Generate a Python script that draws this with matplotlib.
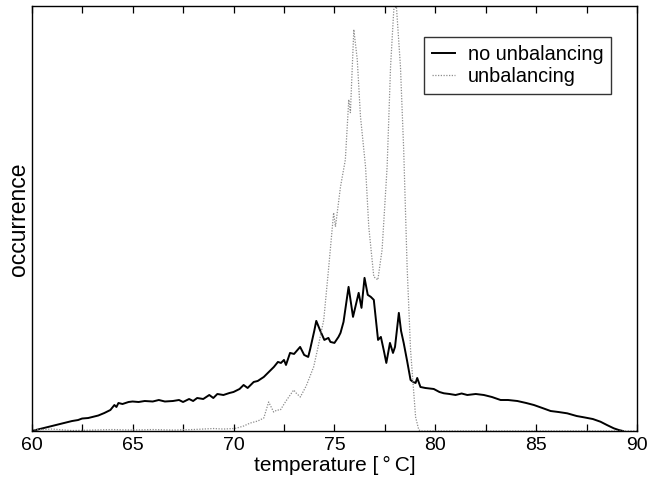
import matplotlib
matplotlib.use("Agg")
import matplotlib.pyplot as plt
from matplotlib.ticker import MultipleLocator

plt.rcParams['font.family'] = ['Liberation Sans', 'DejaVu Sans']

# temperature [°C] and occurrence (arbitrary units) for "no unbalancing"
temp_no = [60.0, 60.5, 61.0, 61.5, 62.0, 62.3, 62.5, 62.8, 63.0, 63.3, 63.6, 63.9, 64.1, 64.2,
           64.3, 64.5, 64.8, 65.0, 65.3, 65.6, 66.0, 66.3, 66.6, 67.0, 67.3, 67.5, 67.8, 68.0,
           68.2, 68.5, 68.8, 69.0, 69.2, 69.5, 69.8, 70.0, 70.3, 70.5, 70.7, 71.0, 71.2, 71.5,
           71.7, 71.9, 72.0, 72.2, 72.35, 72.5, 72.6, 72.8, 73.0, 73.3, 73.5, 73.7, 73.8, 74.0,
           74.1, 74.3, 74.5, 74.7, 74.8, 75.0, 75.2, 75.3, 75.45, 75.7, 75.92, 76.2, 76.34, 76.49,
           76.65, 76.8, 76.95, 77.16, 77.3, 77.45, 77.57, 77.75, 77.9, 78.0, 78.19, 78.3, 78.43,
           78.6, 78.77, 78.9, 79.02, 79.1, 79.26, 79.5, 79.92, 80.2, 80.42, 80.7, 81.0, 81.3,
           81.58, 82.0, 82.4, 82.8, 83.23, 83.6, 84.06, 84.5, 84.88, 85.3, 85.71, 86.1, 86.53,
           87.0, 87.36, 87.8, 88.18, 88.5, 88.84, 89.09, 89.3]
occ_no = [0, 2.5, 5, 7.5, 10, 11, 12.5, 13, 14, 15.5, 18, 21, 26, 24,
          28, 27, 29, 29.5, 29, 30, 29.5, 31, 29.5, 30, 31, 29, 32, 30,
          33, 32, 36, 33, 37, 36, 38, 39, 42, 46, 43, 49, 50, 54,
          58, 62, 64, 69, 68, 71, 66, 78, 77, 84, 76, 74, 82, 100,
          110, 100, 91, 93, 89, 88, 94, 98, 109, 144, 114, 138, 123, 153,
          136, 134, 131, 91, 94, 80, 68, 88, 78, 84, 118, 100, 88,
          70, 51, 49, 48, 53, 44, 43, 42, 39, 37.7, 37, 36, 37.5,
          36, 37, 36, 34, 31, 31, 30, 28, 26, 23, 20, 19, 17.7,
          15, 13.7, 12, 9.3, 6, 2.7, 1, 0]

# temperature [°C] and occurrence for "unbalancing"
temp_un = [60.0, 61.0, 62.0, 63.0, 64.0, 65.0, 66.0, 67.0, 68.0, 69.0, 69.5, 70.0, 70.17,
           70.5, 70.83, 71.2, 71.5, 71.74, 71.99, 72.15, 72.32, 72.6, 72.98, 73.1, 73.31,
           73.6, 73.97, 74.2, 74.47, 74.7, 74.96, 75.05, 75.3, 75.54, 75.71, 75.79, 75.96,
           76.13, 76.29, 76.54, 76.7, 76.95, 77.15, 77.36, 77.61, 77.78, 77.94, 78.07, 78.27,
           78.43, 78.6, 78.77, 79.02, 79.18, 79.3, 80.0, 85.0, 90.0]
occ_un = [1, 2, 0.5, 1, 1.5, 1, 1.5, 1, 1.5, 2.5, 2, 2.5, 3,
          5, 8, 10, 13, 29, 19, 21, 21, 30, 41, 38, 34,
          45, 64, 85, 111, 160, 218, 204, 244, 271, 331, 318, 401,
          371, 314, 264, 204, 154, 151, 181, 264, 364, 421, 424, 364,
          281, 164, 81, 14, 1, 0, 0, 0, 0]

labels = ["no unbalancing", "unbalancing"]

fig = plt.figure(figsize=(6.59, 4.80), dpi=100)
ax = fig.add_axes([0.048, 0.102, 0.919, 0.8845])

ax.plot(temp_no, occ_no, color='black', lw=1.4, label=labels[0])
ax.plot(temp_un, occ_un, color='#8c8c8c', lw=0.9, linestyle=(0, (1, 1.2)), label=labels[1])

ax.set_xlim(60, 90)
ax.set_ylim(0, 424)
ax.xaxis.set_major_locator(MultipleLocator(5))
ax.xaxis.set_minor_locator(MultipleLocator(2.5))
ax.tick_params(axis='x', which='both', direction='in', top=True, bottom=True,
               length=5, width=0.9, labelsize=14, pad=4)
ax.set_yticks([])
for s in ax.spines.values():
    s.set_linewidth(1.0)

ax.set_xlabel("temperature [\u2009°\u2009C]", fontsize=15, labelpad=2)
ax.set_ylabel("occurrence", fontsize=16.5, labelpad=1)

leg = ax.legend(loc='upper right', bbox_to_anchor=(0.957, 0.928), borderaxespad=0,
                fontsize=14.3, frameon=True, fancybox=False, handlelength=1.15,
                handletextpad=0.65, borderpad=0.4, labelspacing=0.15)
leg.get_frame().set_edgecolor('black')
leg.get_frame().set_linewidth(1.0)

fig.savefig("out.png", dpi=100)
